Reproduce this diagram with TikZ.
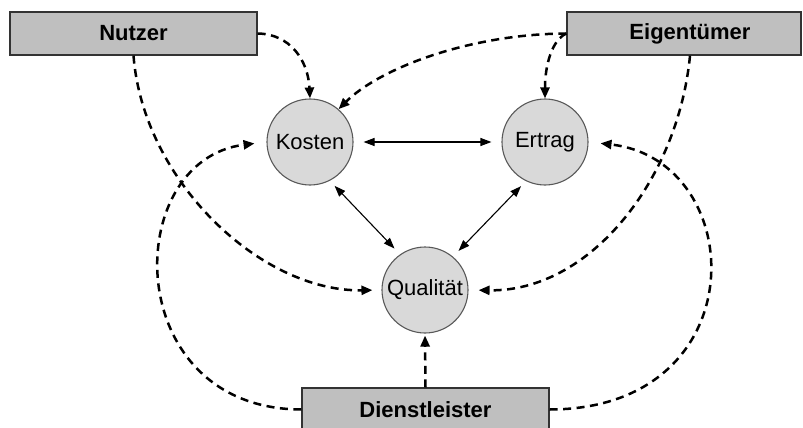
\documentclass[tikz,border=0pt]{standalone}
\usepackage{fontspec}
\setmainfont{Liberation Sans}
\usetikzlibrary{arrows.meta}
\begin{document}
\begin{tikzpicture}[x=1pt,y=-1pt,
  actor/.style={draw=black!80, line width=1.3pt, fill=black!25, rectangle,
    minimum height=43pt, inner sep=0pt, font=\fontsize{22}{26}\selectfont\bfseries},
  target/.style={draw=black!65, line width=1.1pt, fill=black!15, circle,
    minimum size=86pt, inner sep=0pt, font=\fontsize{22}{26}\selectfont},
  influence/.style={line width=2.5pt, dash pattern=on 8pt off 5.5pt,
    -{Triangle[length=11pt,width=9pt]}},
  mutual/.style={line width=1.1pt, {Triangle[length=11pt,width=8pt]}-{Triangle[length=11pt,width=8pt]}}
]
\useasboundingbox (0,0) rectangle (803,428);

% parties
\node[actor, minimum width=247pt] (nutzer) at (133.5,33.5) {Nutzer};
\node[actor, minimum width=234pt] (eig) at (684,33.5) {\hspace*{12pt}Eigentümer};
\node[actor, minimum width=247pt] (dl) at (425.5,409.5) {Dienstleister};

% targets
\node[target] (kosten) at (310,142) {Kosten};
\node[target] (ertrag) at (545,142) {Ertrag};
\node[target] (qual) at (425,290) {Qualität};

% mutual dependencies
\draw[mutual, shorten <=10pt, shorten >=10pt] (kosten.east) -- (ertrag.west);
\draw[mutual, shorten <=7pt, shorten >=8pt] (kosten.-63) -- (qual.125);
\draw[mutual, shorten <=7pt, shorten >=8pt] (ertrag.-116) -- (qual.50);

% influences of the parties
\draw[influence] (nutzer.east) .. controls (290,34) and (308,60) .. (kosten.north);
\draw[influence, shorten >=9pt] (nutzer.south) .. controls (143,180) and (260,292) .. (qual.west);
\draw[influence] (eig.west) .. controls (470,34) and (380,68) .. (kosten.49);
\draw[influence] (eig.west) .. controls (552,40) and (545,65) .. (ertrag.north);
\draw[influence, shorten >=10pt] ([xshift=6pt]eig.south) .. controls (678,180) and (590,292) .. (qual.east);
\draw[influence, shorten >=12pt] (dl.west) .. controls (120,409) and (120,160) .. (kosten.west);
\draw[influence, shorten >=12pt] (dl.east) .. controls (758,409) and (750,160) .. (ertrag.east);
\draw[influence, shorten >=2pt] (dl.north) -- (qual.south);
\end{tikzpicture}
\end{document}
